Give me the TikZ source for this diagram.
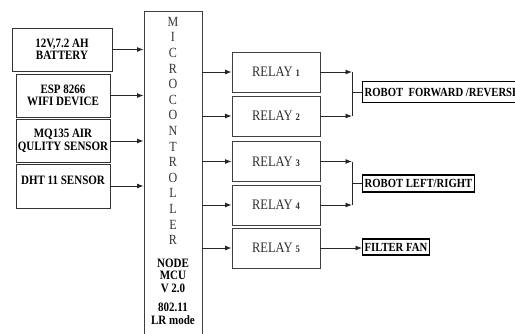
\documentclass[tikz,border=0pt]{standalone}
\usepackage{fontspec}
\setmainfont[FakeStretch=0.86]{Liberation Serif}
\usetikzlibrary{arrows.meta}
\newcommand\relnum[1]{{\bfseries\fontsize{10}{10}\selectfont #1}}
\begin{document}
\begin{tikzpicture}[x=1pt,y=-1pt,
  inbox/.style={draw=black!80, line width=0.9pt, minimum width=94pt, minimum height=43pt, font=\bfseries\fontsize{12.8}{12.5}\selectfont, align=center, inner sep=0pt},
  relay/.style={draw=black!75, line width=0.9pt, minimum width=88pt, minimum height=40pt, font=\fontsize{14.5}{14}\selectfont, text=black!82, inner sep=0pt},
  outbox/.style={draw, line width=1.4pt, inner sep=2pt, font=\bfseries\fontsize{12.4}{11}\selectfont, anchor=west},
  arr/.style={-{Latex[length=6.5pt,width=5pt]}, line width=0.9pt, black!85},
  ln/.style={line width=0.9pt, black!85}]
\useasboundingbox (0,0) rectangle (515,333);
% inputs
\node[inbox, minimum width=100pt] (bat) at (62,49.5) {12V,7.2 AH\\BATTERY};
\node[inbox] (esp) at (63,95.5) {ESP 8266\\WIFI DEVICE};
\node[inbox] (mq) at (63,141) {MQ135 AIR\\QULITY SENSOR};
\node[inbox, minimum height=44pt] (dht) at (63,186) {};
\node[font=\bfseries\fontsize{12.8}{12.5}\selectfont] (dhtt) at (63,180) {DHT 11 SENSOR};
% MCU
\node[draw=black!75, line width=0.9pt, minimum width=58pt, minimum height=340pt, anchor=north, inner sep=0pt] (mcu) at (173,11) {};
\node[anchor=north, align=center, text=black!80, font=\fontsize{14}{15.6}\selectfont, inner sep=0pt] (mcut) at (173,17)
  {M\\I\\C\\R\\O\\C\\O\\N\\T\\R\\O\\L\\L\\E\\R};
\node[align=center, font=\bfseries\fontsize{12.8}{12.5}\selectfont, inner sep=0pt] (mcub) at (173,275.5) {NODE\\MCU\\V 2.0};
\node[align=center, font=\bfseries\fontsize{12.8}{13}\selectfont, inner sep=0pt] (mcuc) at (173,313.5) {802.11\\LR mode};
% relays
\node[relay] (r1) at (276,72) {RELAY \relnum{1}};
\node[relay] (r2) at (276,116) {RELAY \relnum{2}};
\node[relay] (r3) at (276,161.5) {RELAY \relnum{3}};
\node[relay] (r4) at (276,205) {RELAY \relnum{4}};
\node[relay] (r5) at (276,248) {RELAY \relnum{5}};
% outputs
\node[outbox, minimum height=21pt] (fwd) at (362,92) {ROBOT\ \ FORWARD /REVERSE};
\node[outbox, minimum height=17pt] (lr) at (362,183.5) {ROBOT LEFT/RIGHT};
\node[outbox, minimum height=16pt] (fan) at (362,247) {FILTER FAN};
% input arrows
\foreach \n in {bat,esp,mq,dht} \draw[arr] (\n.east) -- (\n.east -| mcu.west);
% relay arrows
\foreach \n in {r1,r2,r3,r4,r5} \draw[arr] (\n.west -| mcu.east) -- (\n.west);
% output
\coordinate (j1) at (352,92);
\coordinate (j2) at (352,183.5);
\draw[arr] (r1.east) -- (r1.east -| j1);
\draw[arr] (r2.east) -- (r2.east -| j1);
\draw[ln] (r1.east -| j1) -- (r2.east -| j1);
\draw[ln] (j1) -- (fwd.west);
\draw[arr] (r3.east) -- (r3.east -| j2);
\draw[arr] (r4.east) -- (r4.east -| j2);
\draw[ln] (r3.east -| j2) -- (r4.east -| j2);
\draw[ln] (j2) -- (lr.west);
\draw[arr] (r5.east) -- (r5.east -| fan.west);
\end{tikzpicture}
\end{document}
